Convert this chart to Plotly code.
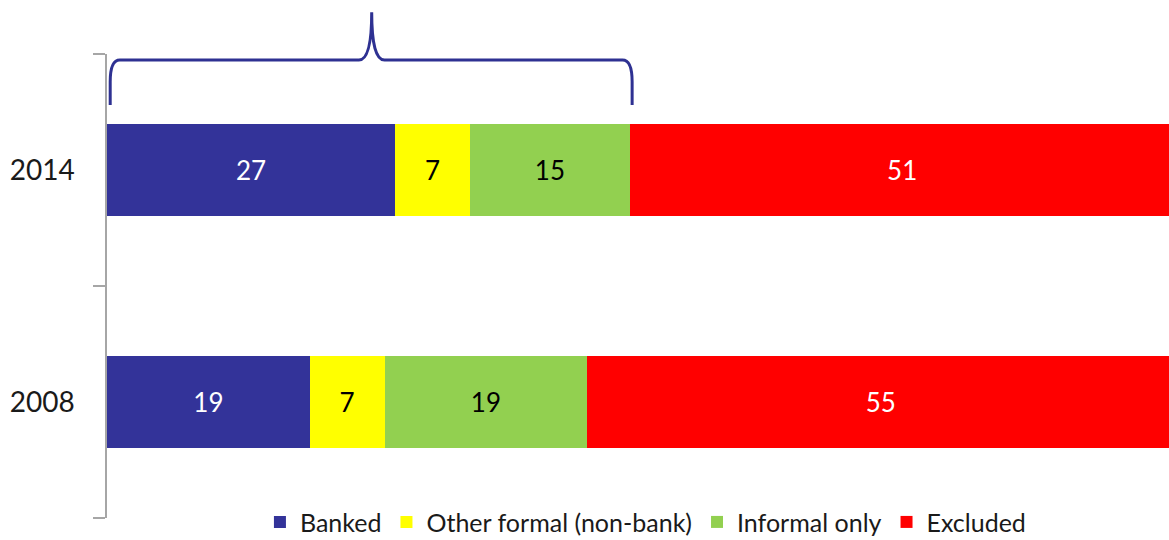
import plotly.graph_objects as go

years = ["2008", "2014"]
series_names = ["Banked", "Other formal (non-bank)", "Informal only", "Excluded"]
banked = [19, 27]
other_formal = [7, 7]
informal = [19, 15]
excluded = [55, 51]
values = [banked, other_formal, informal, excluded]
colors = ["#333399", "#ffff00", "#92d050", "#ff0000"]
text_colors = ["white", "black", "black", "white"]

FONT = "Lato"

fig = go.Figure()
for name, vals, c, tc in zip(series_names, values, colors, text_colors):
    fig.add_trace(go.Bar(
        y=years, x=vals, name=name, orientation="h",
        marker=dict(color=c, line=dict(width=0)),
        text=vals, texttemplate="%{x}", textposition="inside",
        insidetextanchor="middle",
        textfont=dict(color=tc, size=26, family=FONT),
    ))

brace_color = "#2e3192"
x_left, x_right, x_mid = 0.3, 49.2, 24.8
yb, yh, yp = 0.89, 0.987, 1.09
path = (
    f"M {x_left},{yb} L {x_left},{yb+0.05} Q {x_left},{yh} {x_left+0.9},{yh} "
    f"L {x_mid-1.2},{yh} Q {x_mid},{yh} {x_mid},{yp} "
    f"Q {x_mid},{yh} {x_mid+1.2},{yh} "
    f"L {x_right-0.9},{yh} Q {x_right},{yh} {x_right},{yb+0.05} L {x_right},{yb}"
)
fig.add_shape(type="path", path=path, xref="x", yref="paper",
              line=dict(color=brace_color, width=3))

fig.update_layout(
    width=1169, height=540,
    margin=dict(l=107, r=0, t=54, b=22, autoexpand=False),
    barmode="stack", bargap=0.6,
    plot_bgcolor="white", paper_bgcolor="white",
    font=dict(family=FONT, size=25, color="#1a1a1a"),
    showlegend=True,
    legend=dict(orientation="h", x=0.507, xanchor="center", y=-0.009,
                yanchor="middle", font=dict(size=25, family=FONT, color="#1a1a1a"),
                traceorder="normal", itemwidth=30, bgcolor="rgba(0,0,0,0)"),
    xaxis=dict(range=[0, 99.5], visible=False, showgrid=False, fixedrange=True),
    yaxis=dict(type="category", categoryorder="array", categoryarray=years,
               range=[-0.5, 1.5], showline=True, linecolor="#a6a6a6", linewidth=1.5,
               ticks="outside", tickson="boundaries", ticklen=12, tickcolor="#a6a6a6",
               tickwidth=1.5, ticklabelstandoff=25, showgrid=False,
               tickfont=dict(size=28, family=FONT, color="#1a1a1a")),
)

fig.write_html("out.html")
